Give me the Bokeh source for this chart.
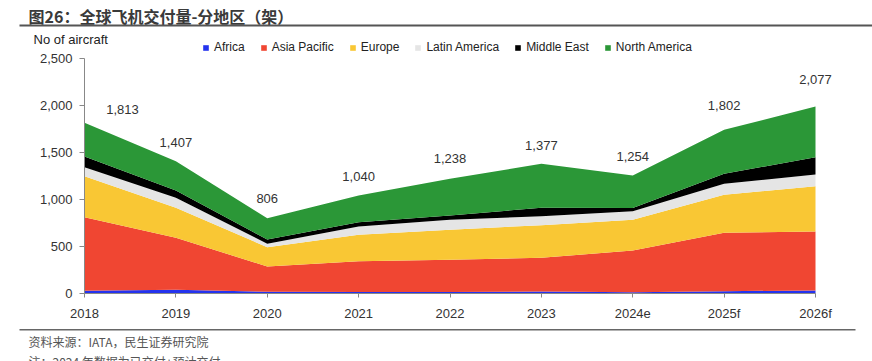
from bokeh.plotting import figure
from bokeh.models import (ColumnDataSource, Range1d, FixedTicker, NumeralTickFormatter,
                          Label, LabelSet, BoxAnnotation, Legend, LegendItem, LinearAxis)
from bokeh.core.properties import value
from bokeh.embed import file_html
from bokeh.resources import INLINE

# ---------------- data ----------------
years = ["2018", "2019", "2020", "2021", "2022", "2023", "2024e", "2025f", "2026f"]
africa = [30, 40, 18, 15, 15, 20, 14, 25, 32]
asia_pacific = [782, 553, 269, 329, 344, 360, 443, 621, 628]
europe = [436, 319, 206, 280, 319, 347, 327, 404, 481]
latin_america = [96, 106, 36, 89, 106, 95, 92, 117, 125]
middle_east = [113, 78, 45, 46, 46, 90, 33, 106, 184]
north_america = [359, 311, 227, 284, 390, 468, 346, 468, 539]
totals = [1813, 1407, 806, 1040, 1238, 1377, 1254, 1802, 2077]
total_labels = ["1,813", "1,407", "806", "1,040", "1,238", "1,377", "1,254", "1,802", "2,077"]
y_ticks = [0, 500, 1000, 1500, 2000, 2500]

series_names = ["Africa", "Asia Pacific", "Europe", "Latin America", "Middle East", "North America"]
series_values = [africa, asia_pacific, europe, latin_america, middle_east, north_america]
colors = ["#2433ee", "#f04632", "#f9c734", "#e5e5e5", "#000000", "#2b9737"]

# label nudges (style only, pixels)
label_dx = [38, 0, 0, 0, 0, 0, 0, 0, 0]
label_dy = [14, 19, 19, 19, 19, 19, 19, 19, 19]

# ---------------- layout (pixels) ----------------
W, H = 872, 361
PLOT_L, PLOT_R = 84, 815      # x pixel of first / last category
PLOT_B, PLOT_T = 68, 303      # y pixel (from bottom) of 0 / 2500
Y_MAX = 2500
n = len(years)
xs = list(range(n))
xpx = (PLOT_R - PLOT_L) / (n - 1)
ypx = (PLOT_T - PLOT_B) / Y_MAX
x_range = Range1d(-PLOT_L / xpx, (n - 1) + (W - PLOT_R) / xpx)
y_range = Range1d(-PLOT_B / ypx, Y_MAX + (H - PLOT_T) / ypx)

data = {"x": xs}
for nm, v in zip(series_names, series_values):
    data[nm] = v
source = ColumnDataSource(data)

FONT = "Liberation Sans"
CJK = "Noto Sans CJK SC"

p = figure(width=W, height=H, x_range=x_range, y_range=y_range,
           x_axis_type=None, y_axis_type=None,
           output_backend="svg", toolbar_location=None,
           min_border=0, min_border_left=0, min_border_right=0,
           min_border_top=0, min_border_bottom=0,
           background_fill_color="white", border_fill_color="white", outline_line_color=None)
p.xgrid.visible = False
p.ygrid.visible = False

renderers = p.varea_stack(stackers=series_names, x="x", source=source, color=colors)

# y axis
yaxis = LinearAxis(fixed_location=0, bounds=(0, Y_MAX),
                   ticker=FixedTicker(ticks=y_ticks),
                   formatter=NumeralTickFormatter(format="0,0"),
                   axis_line_color="#888888", major_tick_line_color="#888888",
                   major_tick_out=5, major_tick_in=0, minor_tick_line_color=None,
                   major_label_standoff=7, major_label_text_font=FONT,
                   major_label_text_font_size="13px", major_label_text_color="#333333")
p.add_layout(yaxis, "left")

# x axis
xaxis = LinearAxis(fixed_location=0, bounds=(0, n - 1),
                   ticker=FixedTicker(ticks=xs),
                   major_label_overrides={i: y for i, y in zip(xs, years)},
                   axis_line_color="#888888", major_tick_line_color="#888888",
                   major_tick_out=4, major_tick_in=0, minor_tick_line_color=None,
                   major_label_standoff=8, major_label_text_font=FONT,
                   major_label_text_font_size="13px", major_label_text_color="#333333")
p.add_layout(xaxis, "below")

# totals labels
lab_src = ColumnDataSource(dict(x=xs, y=totals, text=total_labels, dx=label_dx, dy=label_dy))
p.add_layout(LabelSet(x="x", y="y", text="text", source=lab_src,
                      x_offset="dx", y_offset="dy",
                      text_align="center", text_baseline="middle",
                      text_font=value(FONT), text_font_size=value("13px"),
                      text_color="#333333"))

# legend
legend = Legend(items=[LegendItem(label=nm, renderers=[r]) for nm, r in zip(series_names, renderers)],
                orientation="horizontal", location=(202, 307),
                glyph_width=7, glyph_height=7, label_standoff=5, spacing=15,
                padding=0, margin=0, border_line_color=None, background_fill_alpha=0,
                label_text_font=FONT, label_text_font_size="12px", label_height=14,
                label_text_color="#222222", label_text_baseline="middle")
p.add_layout(legend, "center")

# axis title
p.add_layout(Label(x=33, y=322, x_units="screen", y_units="screen", text="No of aircraft",
                   text_font=FONT, text_font_size="13px", text_color="#222222",
                   text_baseline="middle"))

# chart title and rules
p.add_layout(Label(x=28, y=346, x_units="screen", y_units="screen",
                   text="图26：全球飞机交付量-分地区（架）",
                   text_font=CJK, text_font_size="16px", text_font_style="bold",
                   text_color="#3a3a3a", text_baseline="middle"))
p.add_layout(BoxAnnotation(left=19, right=W, bottom=335, top=337,
                           left_units="screen", right_units="screen",
                           bottom_units="screen", top_units="screen",
                           fill_color="#555555", fill_alpha=1, line_color=None))
p.add_layout(BoxAnnotation(left=19, right=855, bottom=31, top=32.5,
                           left_units="screen", right_units="screen",
                           bottom_units="screen", top_units="screen",
                           fill_color="#666666", fill_alpha=1, line_color=None))
p.add_layout(Label(x=28, y=20, x_units="screen", y_units="screen",
                   text="资料来源：IATA，民生证券研究院",
                   text_font=CJK, text_font_size="12px", text_color="#555555",
                   text_baseline="middle"))
p.add_layout(Label(x=28, y=0, x_units="screen", y_units="screen",
                   text="注：2024 年数据为已交付+预计交付",
                   text_font=CJK, text_font_size="12px", text_color="#555555",
                   text_baseline="middle"))

open("out.html", "w").write(file_html(p, INLINE))
